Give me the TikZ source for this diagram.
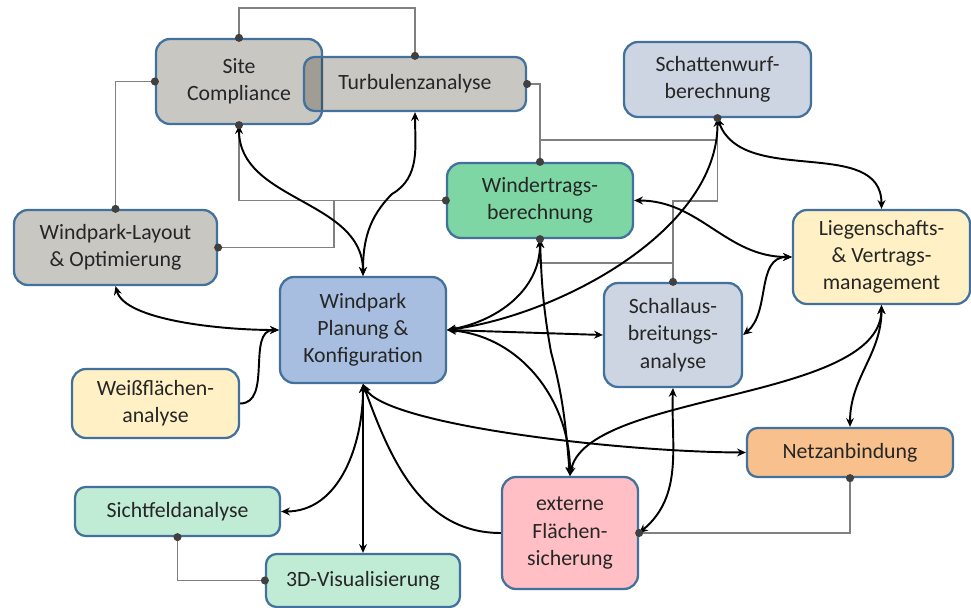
\documentclass[tikz,border=0pt]{standalone}
\usepackage{fontspec}
\setmainfont{Carlito}
\usetikzlibrary{arrows.meta}

\definecolor{rahmen}{HTML}{41719C}
\definecolor{grauton}{RGB}{39,31,11}
\definecolor{schiefer}{HTML}{CDD5E2}
\definecolor{gruen}{HTML}{7DD6A3}
\definecolor{blau}{HTML}{A7BEE0}
\definecolor{gelb}{HTML}{FFF1C5}
\definecolor{netzorange}{HTML}{F8C08C}
\definecolor{rosa}{HTML}{FFBFC4}
\definecolor{mint}{HTML}{C0EBD5}

\begin{document}
\begin{tikzpicture}[x=0.02cm,y=-0.02cm,>={Stealth[length=5pt,width=4.5pt]},
    box/.style={draw=rahmen,line width=1.3pt,rounded corners=8pt,align=center,inner sep=0pt,
      text=black!85,font=\fontsize{12.4}{15.5}\selectfont},
    graubox/.style={box,fill=grauton,fill opacity=0.25,text opacity=1},
    pfeil/.style={<->,line width=1.1pt},
    grau/.style={draw=black!50,line width=0.9pt}]
    \useasboundingbox (0,0) rectangle (971,608);
                \node[graubox,minimum width=3.32cm,minimum height=1.70cm] (site) at (239,81.5) {Site\\Compliance};
                \node[graubox,rounded corners=6pt,minimum width=4.44cm,minimum height=1.08cm] (turb) at (415,84) {Turbulenzanalyse};
                \node[box,fill=schiefer,minimum width=3.74cm,minimum height=1.50cm] (schatten) at (717.5,79.5) {Schattenwurf-\\berechnung};
                \node[box,fill=gruen,minimum width=3.72cm,minimum height=1.50cm] (windertrag) at (540,200.5) {Windertrags-\\berechnung};
                \node[graubox,minimum width=4.06cm,minimum height=1.50cm] (layout) at (115.5,247.5) {Windpark-Layout\\\& Optimierung};
                \node[box,fill=gelb,minimum width=3.54cm,minimum height=1.88cm] (liegen) at (881.5,257) {Liegenschafts-\\\& Vertrags-\\management};
                \node[box,fill=blau,minimum width=3.32cm,minimum height=2.12cm] (planung) at (363,330) {Windpark\\Planung \&\\Konfiguration};
                \node[box,fill=schiefer,minimum width=2.76cm,minimum height=2.08cm] (schall) at (673,335) {Schallaus-\\breitungs-\\analyse};
                \node[box,fill=gelb,minimum width=3.34cm,minimum height=1.38cm] (weiss) at (155.5,403.5) {Weißflächen-\\analyse};
                \node[box,fill=netzorange,rounded corners=6pt,minimum width=4.12cm,minimum height=0.98cm] (netz) at (850,452.5) {Netzanbindung};
                \node[box,fill=mint,rounded corners=6pt,minimum width=4.10cm,minimum height=0.98cm] (sicht) at (177.5,511.5) {Sichtfeldanalyse};
                \node[box,fill=rosa,minimum width=2.72cm,minimum height=2.24cm] (extern) at (570,533) {externe\\Flächen-\\sicherung};
                \node[box,fill=mint,rounded corners=6pt,minimum width=3.88cm,minimum height=1.06cm] (visual) at (363,580.5) {3D-Visualisierung};

                \draw[grau] (site.north) -- ++(0,-30) -| (turb.north);
                \draw[grau] (site.west) -| (layout.north);
                \draw[grau] (turb.east) -| (windertrag.north);
                \draw[grau] (site.south) |- (windertrag.west);
                \draw[grau] (layout.east) -- ++(116,0) |- (windertrag.west);
                \draw[grau] (windertrag.north) -- ++(0,-22) -| (schatten.south);
                \draw[grau] (schatten.south) -- ++(0,83) -| (schall.north);
                \draw[grau] (windertrag.south) -- ++(0,24) -| (schall.north);
                \draw[grau] (netz.south) |- (extern.east);
                \draw[grau] (sicht.south) |- (visual.west);

                \draw[pfeil] (site.south) to[out=-90,in=90] (planung.north);
                \draw[pfeil] (turb.south) to[out=-90,in=30] (392,194) to[out=-135,in=90] (planung.north);
                \draw[pfeil] (layout.south) .. controls (125,320) and (220,330) .. (planung.west);
                \draw[->,line width=1.1pt] (weiss.east) to[out=0,in=180] (planung.west);
                \draw[pfeil] (planung.south) to[out=-90,in=0] (sicht.east);
                \draw[pfeil] (planung.south) -- (visual.north);
                \draw[<-,line width=1.1pt] (planung.south) to[out=-70,in=180] (extern.west);
                \draw[pfeil] (planung.south) .. controls (385,425) and (620,452) .. (netz.west);
                \draw[pfeil] (planung.east) to[out=10,in=-90] (windertrag.south);
                \draw[pfeil] (planung.east) .. controls (560,315) and (718,230) .. (schatten.south);
                \draw[pfeil] (planung.east) -- (schall.west);
                \draw[pfeil] (planung.east) to[out=-5,in=90] (extern.north);
                \draw[pfeil] (windertrag.south) to[out=-88,in=100] (551,352) to[out=-75,in=95] (extern.north);
                \draw[pfeil] (schall.south) to[out=-92,in=40] (extern.east);
                \draw[pfeil] (extern.north) .. controls (585,392) and (880,402) .. (liegen.south);
                \draw[pfeil] (liegen.south) to[out=-90,in=90] (netz.north);
                \draw[pfeil] (schatten.south) to[out=-70,in=90] (liegen.north);
                \draw[pfeil] (windertrag.east) to[out=0,in=180] (liegen.west);
                \draw[pfeil] (schall.east) to[out=40,in=180] (liegen.west);

                \foreach \p in {site.north,turb.north,site.west,layout.north,turb.east,windertrag.north,
                  site.south,windertrag.west,layout.east,schatten.south,schall.north,windertrag.south,
                  netz.south,extern.east,sicht.south,visual.west}
                  \fill[black!75] (\p) circle (2.3pt);
            \end{tikzpicture}
\end{document}
